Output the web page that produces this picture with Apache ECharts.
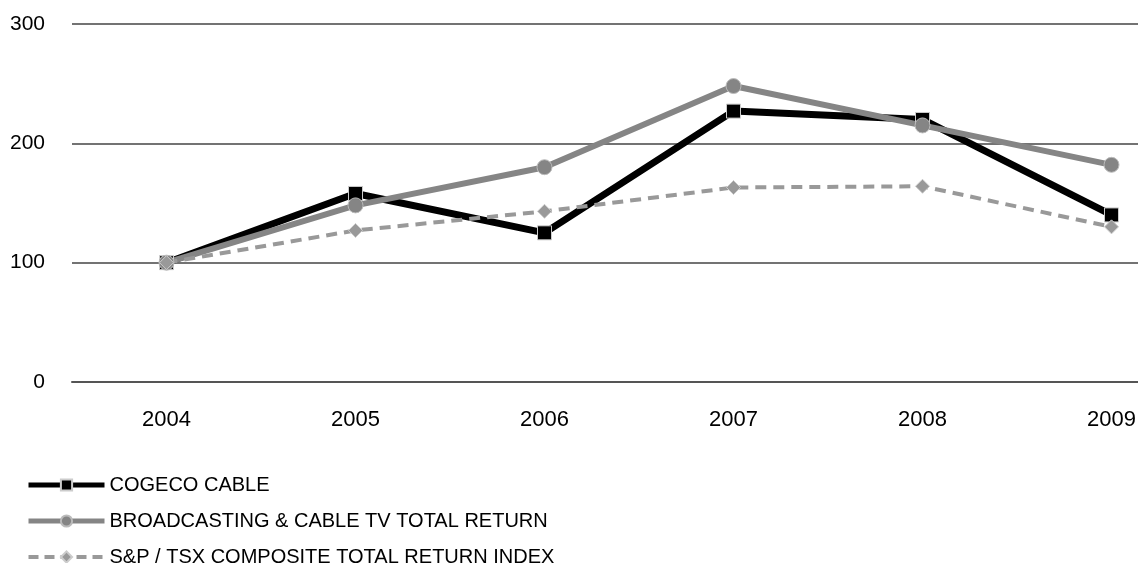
<!DOCTYPE html>
<html>
<head>
<meta charset="utf-8">
<script src="https://cdn.jsdelivr.net/npm/echarts@6/dist/echarts.min.js"></script>
<style>
  html, body { margin: 0; padding: 0; background: #fff; }
  #chart { width: 1138px; height: 563px; }
</style>
</head>
<body>
<div id="chart"></div>
<script>
// years on the x axis
var years = ['2004', '2005', '2006', '2007', '2008', '2009'];

// values
var cogeco = [100, 158, 125, 227, 220, 140];
var broadcasting = [100, 148, 180, 248, 215, 182];
var spTsx = [100, 127, 143, 163, 164, 130];

var seriesNames = [
    'COGECO CABLE',
    'BROADCASTING & CABLE TV TOTAL RETURN',
    'S&P / TSX COMPOSITE TOTAL RETURN INDEX'
];

var chart = echarts.init(document.getElementById('chart'));

var option = {
    animation: false,
    textStyle: { fontFamily: 'Liberation Sans, Arial, sans-serif' },
    // the plot runs on past the right edge of the picture
    grid: { left: 72, top: 24, width: 1134, height: 358, outerBoundsMode: 'none', containLabel: false },
    legend: {
        orient: 'vertical',
        left: 26,
        top: 475,
        height: 120,
        padding: 0,
        itemWidth: 76,
        itemHeight: 14,
        itemGap: 16,
        textStyle: { fontSize: 20, lineHeight: 14, color: '#000', padding: [0, 0, 0, 0] },
        data: [
            { name: seriesNames[0], lineStyle: { width: 5 } },
            { name: seriesNames[1], lineStyle: { width: 5 } },
            { name: seriesNames[2], lineStyle: { width: 4, type: [10, 6] } }
        ]
    },
    xAxis: {
        type: 'category',
        data: years,
        boundaryGap: true,
        axisLine: { show: true, lineStyle: { color: '#555', width: 2 } },
        axisTick: { show: false },
        axisLabel: { color: '#000', fontSize: 22, margin: 27 }
    },
    yAxis: {
        type: 'value',
        min: 0,
        max: 300,
        interval: 100,
        axisLine: { show: false },
        axisTick: { show: false },
        axisLabel: { color: '#000', fontSize: 21, margin: 27 },
        splitLine: { lineStyle: { color: '#444', width: 1.5 } }
    },
    series: [
        {
            name: seriesNames[0],
            type: 'line',
            data: cogeco,
            symbol: 'rect',
            symbolSize: 14,
            lineStyle: { color: '#000', width: 7 },
            itemStyle: { color: '#000', borderColor: '#ccc', borderWidth: 1 }
        },
        {
            name: seriesNames[1],
            type: 'line',
            data: broadcasting,
            symbol: 'circle',
            symbolSize: 15,
            lineStyle: { color: '#858585', width: 6 },
            itemStyle: { color: '#858585', borderColor: '#bbb', borderWidth: 1 }
        },
        {
            name: seriesNames[2],
            type: 'line',
            data: spTsx,
            symbol: 'diamond',
            symbolSize: 14,
            lineStyle: { color: '#999', width: 4, type: [11, 7] },
            itemStyle: { color: '#999', borderColor: '#ccc', borderWidth: 1 }
        }
    ]
};

chart.setOption(option);
</script>
</body>
</html>
